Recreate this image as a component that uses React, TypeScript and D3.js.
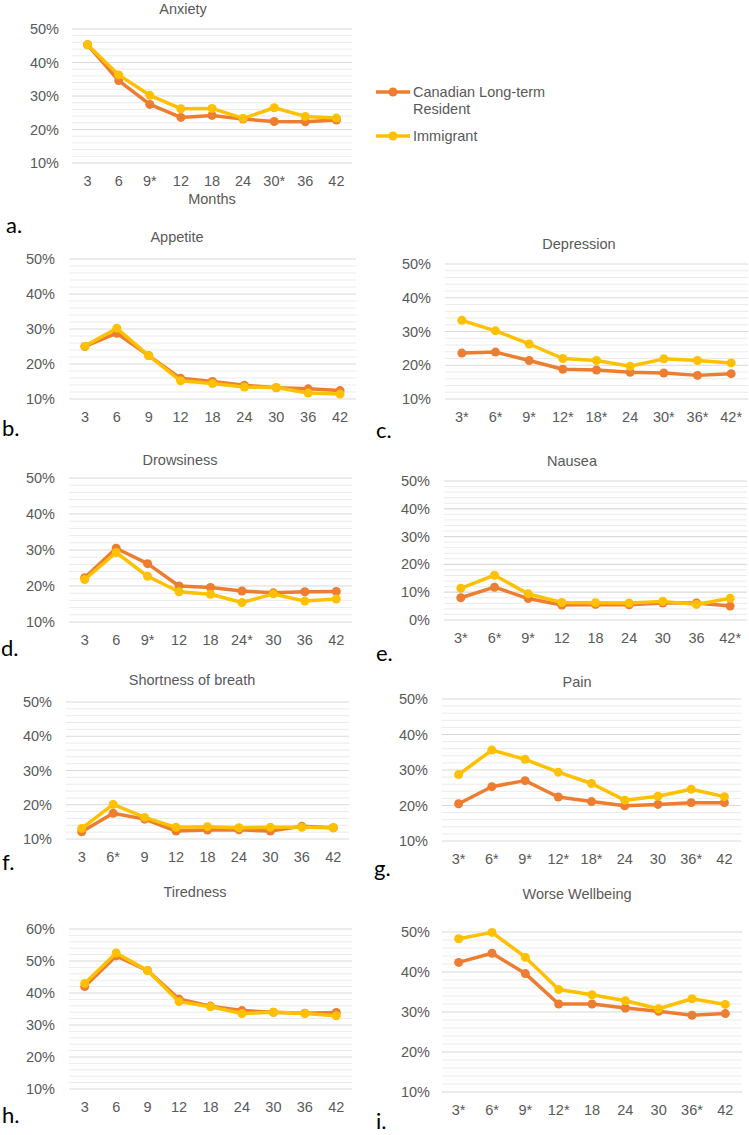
import React from 'react';
import * as d3 from 'd3';

// categories (months, * = significant difference)
const monthsAnxiety = ['3', '6', '9*', '12', '18', '24', '30*', '36', '42'];
const monthsAppetite = ['3', '6', '9', '12', '18', '24', '30', '36', '42'];
const monthsDepression = ['3*', '6*', '9*', '12*', '18*', '24', '30*', '36*', '42*'];
const monthsDrowsiness = ['3', '6', '9*', '12', '18', '24*', '30', '36', '42'];
const monthsNausea = ['3*', '6*', '9*', '12', '18', '24', '30', '36', '42*'];
const monthsBreath = ['3', '6*', '9', '12', '18', '24', '30', '36', '42'];
const monthsPain = ['3*', '6*', '9*', '12*', '18*', '24', '30', '36*', '42'];
const monthsTiredness = ['3', '6', '9', '12', '18', '24', '30', '36', '42'];
const monthsWellbeing = ['3*', '6*', '9*', '12*', '18', '24', '30', '36*', '42'];

// Canadian long-term residents (%)
const canAnxiety = [45.3, 34.6, 27.5, 23.6, 24.2, 23.1, 22.4, 22.3, 22.8];
const canAppetite = [25.0, 28.8, 22.4, 15.9, 15.0, 13.9, 13.2, 12.9, 12.4];
const canDepression = [23.6, 23.9, 21.4, 18.8, 18.6, 17.9, 17.7, 17.0, 17.5];
const canDrowsiness = [22.3, 30.5, 26.2, 20.0, 19.6, 18.6, 18.1, 18.4, 18.5];
const canNausea = [8.0, 11.8, 7.7, 5.4, 5.6, 5.5, 6.1, 6.1, 5.0];
const canBreath = [12.1, 17.5, 15.8, 12.3, 12.6, 12.7, 12.3, 13.7, 13.3];
const canPain = [20.5, 25.3, 27.0, 22.4, 21.1, 19.9, 20.3, 20.8, 20.8];
const canTiredness = [42.0, 51.6, 47.0, 38.1, 35.9, 34.5, 34.0, 33.7, 33.9];
const canWellbeing = [42.4, 44.7, 39.6, 32.0, 32.0, 31.0, 30.2, 29.2, 29.6];

// Immigrants (%)
const immAnxiety = [45.3, 36.3, 30.2, 26.2, 26.3, 23.3, 26.5, 23.9, 23.4];
const immAppetite = [25.1, 30.2, 22.4, 15.2, 14.4, 13.4, 13.3, 11.7, 11.4];
const immDepression = [33.3, 30.2, 26.3, 22.0, 21.4, 19.7, 21.9, 21.4, 20.7];
const immDrowsiness = [21.8, 29.3, 22.7, 18.4, 17.7, 15.4, 17.8, 15.8, 16.4];
const immNausea = [11.4, 16.1, 9.4, 6.3, 6.2, 6.1, 6.7, 5.6, 7.8];
const immBreath = [13.1, 20.1, 16.3, 13.4, 13.6, 13.3, 13.4, 13.4, 13.3];
const immPain = [28.7, 35.6, 33.0, 29.4, 26.2, 21.5, 22.6, 24.6, 22.5];
const immTiredness = [43.0, 52.5, 47.0, 37.3, 35.7, 33.6, 34.0, 33.6, 32.9];
const immWellbeing = [48.3, 49.9, 43.7, 35.6, 34.3, 32.8, 30.8, 33.3, 31.9];

const seriesNames = ['Canadian Long-term Resident', 'Immigrant'];
const ORANGE = '#ED7D31';
const YELLOW = '#FFC000';
const GREY = '#595959';
const FONT = '"Liberation Sans", Arial, sans-serif';
const FS = 14.5;

interface Panel {
  tag: string;
  title: string;
  cats: string[];
  can: number[];
  imm: number[];
  x0: number; x1: number; top: number; bottom: number;
  yMin: number; yMax: number;
  titleX: number; titleY: number;
  tagX: number; tagY: number;
  labelRight: number;
  axisTitle?: string;
}

const panels: Panel[] = [
  { tag: 'a.', title: 'Anxiety', cats: monthsAnxiety, can: canAnxiety, imm: immAnxiety,
    x0: 72, x1: 352, top: 29, bottom: 163, yMin: 10, yMax: 50,
    titleX: 183, titleY: 9, tagX: 6, tagY: 225, labelRight: 59, axisTitle: 'Months' },
  { tag: 'b.', title: 'Appetite', cats: monthsAppetite, can: canAppetite, imm: immAppetite,
    x0: 69, x1: 356, top: 259, bottom: 399, yMin: 10, yMax: 50,
    titleX: 177, titleY: 237, tagX: 2, tagY: 428, labelRight: 55 },
  { tag: 'c.', title: 'Depression', cats: monthsDepression, can: canDepression, imm: immDepression,
    x0: 445, x1: 748, top: 264, bottom: 399, yMin: 10, yMax: 50,
    titleX: 579, titleY: 244, tagX: 376, tagY: 430, labelRight: 431 },
  { tag: 'd.', title: 'Drowsiness', cats: monthsDrowsiness, can: canDrowsiness, imm: immDrowsiness,
    x0: 69, x1: 352, top: 478, bottom: 622, yMin: 10, yMax: 50,
    titleX: 180, titleY: 460, tagX: 1, tagY: 648, labelRight: 55 },
  { tag: 'e.', title: 'Nausea', cats: monthsNausea, can: canNausea, imm: immNausea,
    x0: 444, x1: 747, top: 481, bottom: 620, yMin: 0, yMax: 50,
    titleX: 572, titleY: 461, tagX: 376, tagY: 653, labelRight: 430 },
  { tag: 'f.', title: 'Shortness of breath', cats: monthsBreath, can: canBreath, imm: immBreath,
    x0: 66, x1: 349, top: 702, bottom: 839, yMin: 10, yMax: 50,
    titleX: 192, titleY: 680, tagX: 2, tagY: 862, labelRight: 52 },
  { tag: 'g.', title: 'Pain', cats: monthsPain, can: canPain, imm: immPain,
    x0: 442, x1: 741, top: 699, bottom: 841, yMin: 10, yMax: 50,
    titleX: 577, titleY: 682, tagX: 374, tagY: 868, labelRight: 428 },
  { tag: 'h.', title: 'Tiredness', cats: monthsTiredness, can: canTiredness, imm: immTiredness,
    x0: 69, x1: 352, top: 929, bottom: 1089, yMin: 10, yMax: 60,
    titleX: 195, titleY: 892, tagX: 2, tagY: 1115, labelRight: 55 },
  { tag: 'i.', title: 'Worse Wellbeing', cats: monthsWellbeing, can: canWellbeing, imm: immWellbeing,
    x0: 442, x1: 742, top: 932, bottom: 1092, yMin: 10, yMax: 50,
    titleX: 577, titleY: 894, tagX: 376, tagY: 1121, labelRight: 430 },
];

const ChartPanel: React.FC<{ p: Panel }> = ({ p }) => {
  const x = d3.scalePoint<string>().domain(p.cats).range([p.x0, p.x1]).padding(0.5);
  const y = d3.scaleLinear().domain([p.yMin, p.yMax]).range([p.bottom, p.top]);
  const minor = d3.range(p.yMin, p.yMax + 0.001, 2).filter(v => Math.round(v) % 10 !== 0);
  const major = d3.range(p.yMin, p.yMax + 0.001, 10);
  const line = d3.line<number>().x((_, i) => x(p.cats[i])!).y(d => y(d));
  const series = [
    { vals: p.can, color: ORANGE },
    { vals: p.imm, color: YELLOW },
  ];
  return (
    <g>
      <text x={p.titleX} y={p.titleY} dy="0.35em" textAnchor="middle" fontSize={FS} fill={GREY}>{p.title}</text>
      {minor.map(v => (
        <line key={'m' + v} x1={p.x0} x2={p.x1} y1={y(v)} y2={y(v)} stroke="#ebebeb" strokeWidth={1} />
      ))}
      {major.map(v => (
        <line key={'M' + v} x1={p.x0} x2={p.x1} y1={y(v)} y2={y(v)} stroke="#d9d9d9" strokeWidth={1.2} />
      ))}
      {major.map(v => (
        <text key={'t' + v} x={p.labelRight} y={y(v)} dy="0.35em" textAnchor="end" fontSize={FS} fill={GREY}>{v}%</text>
      ))}
      {p.cats.map(c => (
        <text key={'c' + c} x={x(c)} y={p.bottom + 18} dy="0.35em" textAnchor="middle" fontSize={FS} fill={GREY}>{c}</text>
      ))}
      {p.axisTitle && (
        <text x={(p.x0 + p.x1) / 2} y={p.bottom + 36} dy="0.35em" textAnchor="middle" fontSize={FS} fill={GREY}>{p.axisTitle}</text>
      )}
      {series.map((s, k) => (
        <g key={'s' + k}>
          <path d={line(s.vals)!} fill="none" stroke={s.color} strokeWidth={3.5} strokeLinejoin="round" />
          {s.vals.map((v, i) => (
            <circle key={i} cx={x(p.cats[i])} cy={y(v)} r={4.5} fill={s.color} />
          ))}
        </g>
      ))}
      <text x={p.tagX} y={p.tagY} dy="0.35em" fontSize={22} fill="#000" fontFamily="Lato, 'Open Sans', sans-serif">{p.tag}</text>
    </g>
  );
};

const App: React.FC = () => {
  return (
    <svg width={749} height={1135} style={{ position: 'absolute', left: 0, top: 0, background: '#fff' }}
      fontFamily={FONT}>
      <rect width={749} height={1135} fill="#fff" />
      {panels.map(p => <ChartPanel key={p.tag} p={p} />)}
      <g>
        <line x1={376} x2={410} y1={92} y2={92} stroke={ORANGE} strokeWidth={3.5} />
        <circle cx={393} cy={92} r={4.5} fill={ORANGE} />
        <text x={413} y={92} dy="0.35em" fontSize={FS} fill={GREY}>Canadian Long-term</text>
        <text x={413} y={109} dy="0.35em" fontSize={FS} fill={GREY}>Resident</text>
        <line x1={376} x2={410} y1={136} y2={136} stroke={YELLOW} strokeWidth={3.5} />
        <circle cx={393} cy={136} r={4.5} fill={YELLOW} />
        <text x={413} y={136} dy="0.35em" fontSize={FS} fill={GREY}>{seriesNames[1]}</text>
      </g>
    </svg>
  );
};

export default App;
